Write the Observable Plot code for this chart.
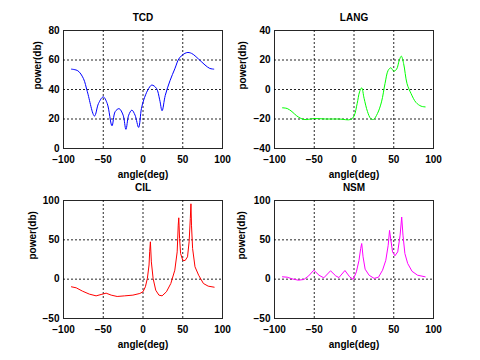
<!DOCTYPE html>
<html>
<head>
<meta charset="utf-8">
<script src="https://cdn.jsdelivr.net/npm/d3@7"></script>
<script src="https://cdn.jsdelivr.net/npm/@observablehq/plot@0.6"></script>
<style>
  html, body { margin: 0; padding: 0; background: white; }
  #fig { position: relative; width: 480px; height: 360px; background: white; }
  #fig svg { position: absolute; left: 0; top: 0; overflow: visible; }
</style>
</head>
<body>
<div id="fig"></div>
<script>
const xTicks = [-100, -50, 0, 50, 100];
const titles = ["TCD", "LANG", "CIL", "NSM"];
const xLabel = "angle(deg)";
const yLabel = "power(db)";
const colors = ["#0000ff", "#00ff00", "#ff0000", "#ff00ff"];

const tcdAngle = [-90, -82, -75, -70, -61, -56, -50, -45, -39, -35, -30, -25, -21.5, -18, -14, -10, -5.5, -2, 1, 6, 11, 17, 21, 24, 28, 34, 40, 46, 55, 61, 70, 78, 84, 89];
const tcdPower = [53.8, 52.7, 47.5, 38.5, 22, 30.5, 35, 30.5, 15.4, 25, 27, 22.6, 13, 22.6, 26, 22.6, 14.3, 27, 33, 39.6, 43, 40.7, 33, 25.6, 36, 46, 54, 61.5, 65, 64.5, 60.6, 56.6, 54.3, 53.8];
const tcdTicks = [0, 20, 40, 60, 80];

const langAngle = [-90, -84, -78, -72, -63, -50, -36, -19, -4, 0, 4, 7, 9.7, 12.7, 17, 21, 24.5, 29.5, 34.6, 39, 43, 46.4, 50, 53.6, 57, 59.5, 62.4, 66.7, 71.7, 78, 84.4, 89.5];
const langPower = [-12.4, -12.9, -15, -17.9, -20.3, -19.7, -20, -20, -20.3, -18, -9.5, -1.6, 1.1, -6, -15, -19.7, -20.3, -16.3, -8.4, 4, 13, 14.7, 12.4, 13.8, 19.9, 22.6, 17.6, 4, -2.7, -8.8, -11.3, -11.8];
const langTicks = [-40, -20, 0, 20, 40];

const cilAngle = [-90, -84, -76, -67.5, -59, -52.7, -46.4, -40, -32.5, -23, -12.7, -4, 0, 3, 5.5, 7.6, 8.4, 9.3, 10.5, 12.7, 16, 20, 24, 29.5, 35, 40, 43, 44.3, 45, 46, 47.3, 50, 53, 56, 58, 59.5, 60.3, 61, 62.4, 65.4, 70, 76, 82, 89.5];
const cilPower = [-9.7, -11, -15.3, -19, -21.2, -19.5, -17.8, -20.3, -22, -21.2, -20.3, -18.2, -16, -9.7, 1, 18, 35, 47.5, 22, 1, -14, -20.3, -21.2, -16, -5.5, 11.4, 34.7, 68.6, 78, 51.7, 32.6, 24, 23.7, 28.4, 47.5, 77, 95.8, 68.6, 39, 15.7, 5, -5.5, -8.9, -10.2];
const cilTicks = [-50, 0, 50, 100];

const nsmAngle = [-90, -84, -78, -70, -63, -57, -50.6, -44, -38, -29.5, -23, -19, -11.4, -5.5, -1, 3, 6.3, 8.4, 9.7, 11.4, 14, 19, 25.3, 30.8, 35.9, 40, 43, 44.7, 46.4, 48.5, 51.5, 55, 58, 60, 61.6, 64, 67.5, 73, 80, 89.5];
const nsmPower = [3, 2.5, 0.4, -1.3, -0.4, 4.2, 11.4, 5, 1.7, 10.6, 4.2, 2, 11, 3, -0.4, 9.3, 24, 39, 45.3, 28.4, 12.7, 5, 1, 2.5, 11.4, 24, 43, 62, 49.6, 34.7, 29.7, 34.7, 56, 79, 56, 32.6, 20, 10, 5, 3];
const nsmTicks = [-50, 0, 50, 100];

const W = 480, H = 360;
const panels = [
  {angle: tcdAngle, power: tcdPower, ticks: tcdTicks, box: [63, 222, 30, 148], curve: "catmull-rom", ydx: -26},
  {angle: langAngle, power: langPower, ticks: langTicks, box: [274, 433, 30, 148], curve: "catmull-rom", ydx: -32},
  {angle: cilAngle, power: cilPower, ticks: cilTicks, box: [63, 222, 200, 318], curve: "linear", ydx: -31},
  {angle: nsmAngle, power: nsmPower, ticks: nsmTicks, box: [274, 433, 200, 318], curve: "linear", ydx: -33}
];

const fig = document.getElementById("fig");
panels.forEach((p, i) => {
  const data = p.angle.map((a, k) => ({angle: a, power: p.power[k]}));
  const [x0, x1, y0, y1] = p.box;
  const yDomain = [p.ticks[0], p.ticks[p.ticks.length - 1]];
  const svg = Plot.plot({
    width: W, height: H,
    marginLeft: x0, marginRight: W - x1, marginTop: y0, marginBottom: H - y1,
    style: {background: "transparent", fontFamily: "'Liberation Sans', Arial, sans-serif", fontSize: "10px", fontWeight: "bold", color: "black", overflow: "visible"},
    x: {domain: [-100, 100], ticks: xTicks, tickSize: 0, tickPadding: 7, label: null},
    y: {domain: yDomain, ticks: p.ticks, tickSize: 0, tickPadding: 4, label: null},
    marks: [
      Plot.gridX(xTicks.slice(1, -1), {stroke: "black", strokeOpacity: 0.85, strokeDasharray: "2,2"}),
      Plot.gridY(p.ticks.slice(1, -1), {stroke: "black", strokeOpacity: 0.85, strokeDasharray: "2,2"}),
      Plot.line(data, {x: "angle", y: "power", stroke: colors[i], strokeWidth: 1, curve: p.curve}),
      Plot.frame({stroke: "black", strokeOpacity: 0.85}),
      Plot.text([titles[i]], {frameAnchor: "top", dy: -13, lineAnchor: "middle", fontWeight: "bold", fontSize: 10}),
      Plot.text([xLabel], {frameAnchor: "bottom", dy: 26, lineAnchor: "middle", fontWeight: "bold", fontSize: 10}),
      Plot.text([yLabel], {frameAnchor: "left", dx: p.ydx, rotate: -90, lineAnchor: "middle", fontWeight: "bold", fontSize: 10})
    ]
  });
  fig.appendChild(svg);
});
</script>
</body>
</html>
